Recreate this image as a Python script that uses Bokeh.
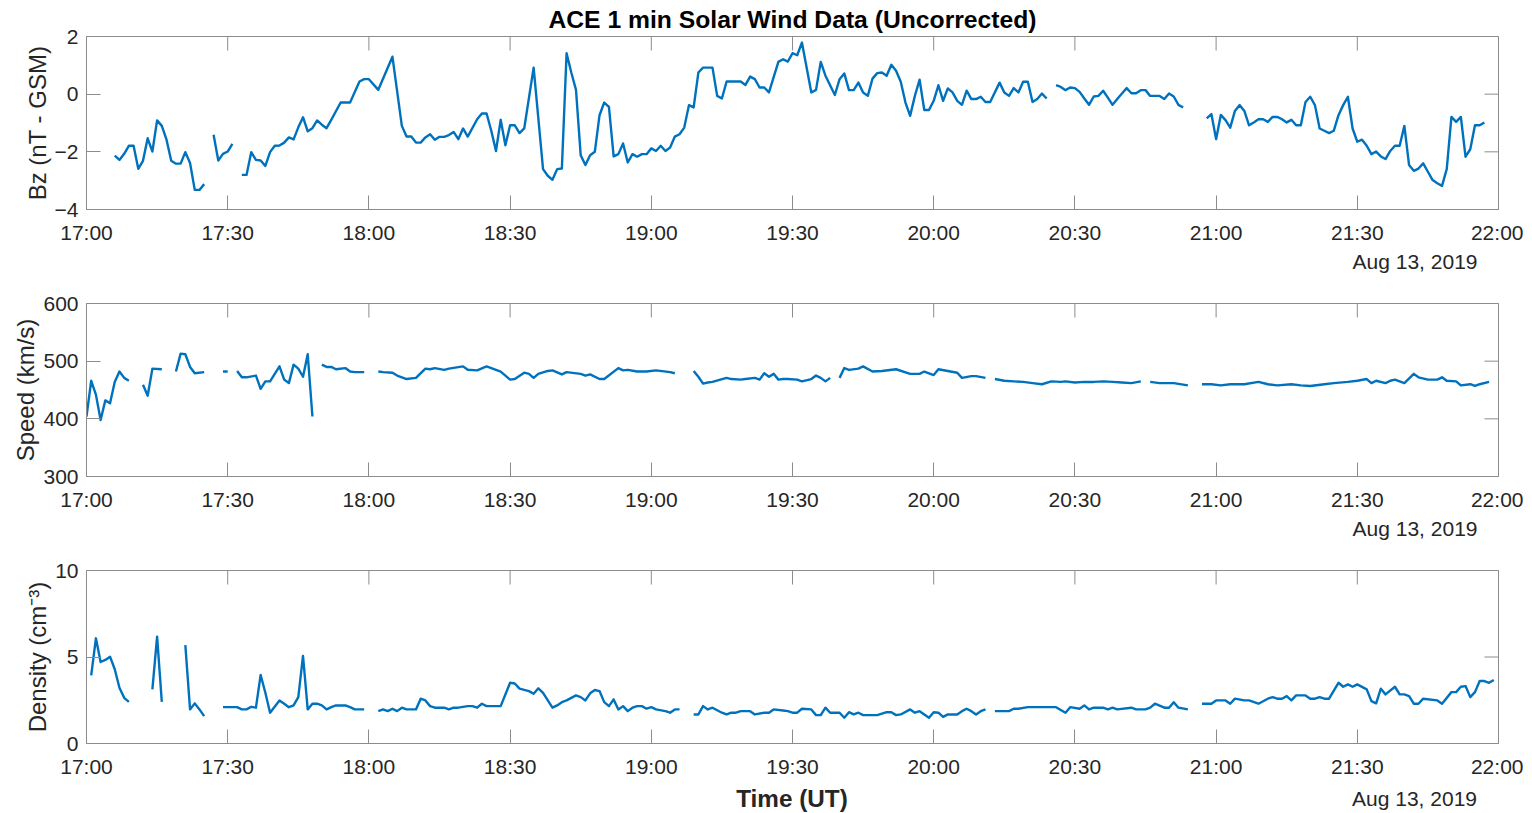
import numpy as np
from bokeh.plotting import figure
from bokeh.layouts import column
from bokeh.models import Range1d, FixedTicker, Title, Div
from bokeh.embed import file_html
from bokeh.resources import INLINE

# ---------------- data (minutes after 17:00 UT, None = data gap) ----------------
x_ticks = [0, 30, 60, 90, 120, 150, 180, 210, 240, 270, 300]
x_tick_labels = ["17:00", "17:30", "18:00", "18:30", "19:00", "19:30",
                 "20:00", "20:30", "21:00", "21:30", "22:00"]
date_text = "Aug 13, 2019"
title_text = "ACE 1 min Solar Wind Data (Uncorrected)"
xlabel_text = "Time (UT)"

bz_min = [6, 7, 8, 9, 10, 11, 12, 13, 14, 15, 16, 17, 18, 19, 20, 21, 22, 23, 24, 25,
          26,
          27, 28, 29, 30, 31,
          32,
          33, 34, 35, 36, 37, 38, 39, 40, 41, 42, 43, 44, 45, 46, 47, 48, 49, 50, 51, 52,
          54, 55, 56, 58, 59, 60, 62, 65, 67, 68, 69, 70, 71, 72, 73, 74, 75, 76, 77, 78,
          79, 80, 81, 83, 84, 85, 86, 87, 88, 89, 90, 91, 92, 93, 95, 97, 98, 99, 100,
          101, 102, 103, 104, 105, 106, 107, 108, 109, 110, 111, 112, 113, 114, 115, 116,
          117, 118, 119, 120, 121, 122, 123, 124, 125, 126, 127, 128, 129, 130, 131, 133,
          134, 135, 136, 139, 140, 141, 142, 143, 144, 145, 147, 148, 149, 150, 151, 152,
          154, 155, 156, 157, 159, 160, 161, 162, 163, 164, 165, 166, 167, 168, 169, 170,
          171, 172, 173, 174, 175, 176, 177, 178, 179, 180, 181, 182, 183, 184, 185, 186,
          187, 188, 189, 190, 191, 192, 194, 195, 196, 197, 198, 199, 200, 201, 202, 203, 204,
          205,
          206, 207, 208, 209, 210, 211, 212, 213, 214, 215, 216, 217, 218, 219, 220, 221,
          222, 223, 224, 225, 226, 228, 229, 230, 231, 232, 233,
          235,
          238, 239, 240, 241, 242, 243, 244, 245, 246, 247, 248, 249, 250, 251, 252, 253,
          254, 255, 256, 257, 258, 259, 260, 261, 262, 263, 264, 265, 266, 267, 268, 269,
          270, 271, 272, 273, 274, 275, 276, 277, 278, 279, 280, 281, 282, 283, 284, 285,
          286, 287, 288, 289, 290, 291, 292, 293, 294, 295, 296, 297]
bz_val = [-2.13, -2.28, -2.07, -1.79, -1.79, -2.59, -2.31, -1.53, -1.99, -0.91, -1.1, -1.58,
          -2.31, -2.41, -2.41, -2.01, -2.39, -3.32, -3.32, -3.12,
          None,
          -1.41, -2.30, -2.07, -1.99, -1.72,
          None,
          -2.8, -2.8, -2.01, -2.28, -2.3, -2.49, -2.01, -1.79, -1.78, -1.68, -1.5, -1.57,
          -1.15, -0.8, -1.29, -1.18, -0.91, -1.06, -1.18, -0.89,
          -0.29, -0.29, -0.29, 0.44, 0.52, 0.52, 0.15, 1.3, -1.1, -1.47, -1.47, -1.68, -1.68,
          -1.5, -1.39, -1.58, -1.48, -1.48, -1.42, -1.31,
          -1.56, -1.19, -1.47, -0.87, -0.67, -0.67, -1.27, -1.97, -0.89, -1.77, -1.08, -1.08,
          -1.35, -1.19, 0.92, -2.6, -2.83, -2.97, -2.6,
          -2.58, 1.42, 0.75, 0.15, -2.12, -2.46, -2.12, -2.0, -0.73, -0.29, -0.44, -2.16,
          -2.08, -1.71, -2.37, -2.08,
          -2.17, -2.08, -2.08, -1.88, -1.97, -1.79, -1.97, -1.85, -1.47, -1.39, -1.16, -0.38,
          -0.46, 0.75, 0.92, 0.92,
          -0.06, -0.15, 0.44, 0.44, 0.32, 0.61, 0.52, 0.23, 0.23, 0.06, 1.12, 1.21, 1.13, 1.42,
          1.35, 1.79,
          0.06, 0.15, 1.12, 0.64, -0.03, 0.52, 0.72, 0.14, 0.14, 0.4, 0.06, -0.06, 0.54, 0.73,
          0.75, 0.64,
          1.02, 0.81, 0.43, -0.29, -0.75, -0.06, 0.5, -0.55, -0.55, -0.23, 0.31, -0.23, 0.2,
          0.06, -0.23, -0.37,
          0.12, -0.17, -0.17, -0.09, -0.27, -0.27, 0.4, 0.06, -0.06, 0.21, 0.06, 0.43, 0.43,
          -0.27, -0.17, 0.02, -0.15,
          None,
          0.31, 0.25, 0.14, 0.23, 0.21, 0.08, -0.15, -0.37, -0.08, -0.06, 0.12, -0.12, -0.37,
          -0.17, 0.02, 0.21,
          0.03, 0.03, 0.14, 0.14, -0.06, -0.06, -0.17, 0.02, -0.08, -0.37, -0.46,
          None,
          -0.84, -0.69, -1.56, -0.72, -0.9, -1.16, -0.58, -0.38, -0.58, -1.08, -0.98, -0.87,
          -0.87, -0.96, -0.79, -0.79,
          -0.87, -0.98, -0.89, -1.08, -1.08, -0.27, -0.09, -0.38, -1.19, -1.27, -1.35, -1.27,
          -0.73, -0.38, -0.09, -1.19,
          -1.65, -1.58, -1.79, -2.08, -1.99, -2.16, -2.25, -1.97, -1.79, -1.79, -1.1, -2.46,
          -2.66, -2.58, -2.4, -2.69,
          -2.98, -3.09, -3.18, -2.6, -0.79, -0.96, -0.79, -2.17, -1.91, -1.08, -1.08, -0.98]

speed_min = [0, 1, 2, 3, 4, 5, 6, 7, 8, 9,
             10,
             12, 13, 14, 16,
             17,
             19, 20, 21, 22, 23, 25,
             27,
             29, 30,
             31,
             32, 33, 34, 36, 37, 38, 39, 41, 42, 43, 44, 45, 46, 47, 48,
             49,
             50, 51, 52, 53, 55, 56, 57, 59,
             60,
             62, 63, 65, 66, 68, 70, 72, 73, 74, 76, 77, 80, 81, 83, 85, 88, 90, 91, 93, 94,
             95, 96, 98, 99, 101, 102, 105, 106, 107, 109, 110, 113, 114, 115, 117, 119, 121,
             124, 125,
             127,
             129, 130, 131, 132, 133, 136, 137, 139, 140, 142, 143, 144, 145, 146, 147, 148,
             149, 151, 152, 154, 155, 156, 157, 158,
             159,
             160, 161, 162, 164, 165, 167, 169, 172, 175, 177, 178, 180, 181, 183, 185, 186,
             188, 189, 191,
             192,
             193, 195, 197, 199, 201, 203, 205, 207, 208, 210, 212, 214, 216, 218, 220, 222, 224,
             225,
             226, 228, 231, 234,
             235,
             237, 239, 241, 243, 246, 249, 251, 253, 256, 258, 260, 263, 265, 268, 270, 272,
             273, 274, 276, 277, 278, 280, 282, 283, 285, 287, 288, 289, 291, 292, 294, 295,
             296, 298]
speed_val = [404, 466, 442, 398, 432, 427, 464, 482, 471, 466,
             None,
             459, 440, 487, 486,
             None,
             482, 513, 512, 490, 479, 481,
             None,
             482, 482,
             None,
             483, 472, 472, 475, 452, 465, 465, 491, 468, 462, 494, 487, 473, 512, 404,
             None,
             494, 490, 490, 486, 488, 482, 481, 481,
             None,
             482, 481, 480, 475, 469, 471, 487, 486, 488, 485, 487, 491, 485, 484, 491, 482,
             468, 469, 480, 478,
             471, 478, 483, 484, 477, 481, 478, 475, 477, 469, 469, 488, 484, 485, 482, 482,
             484, 481, 479,
             None,
             483, 473, 461, 463, 464, 471, 469, 468, 469, 471, 468, 479, 473, 478, 468, 469,
             469, 468, 465, 469, 475, 471, 465, 471,
             None,
             471, 488, 485, 487, 491, 482, 483, 486, 478, 478, 482, 476, 486, 483, 480, 471,
             474, 474, 471,
             None,
             469, 466, 465, 464, 462, 460, 465, 464, 465, 463, 464, 464, 465, 464, 463, 462, 465,
             None,
             464, 462, 462, 458,
             None,
             460, 460, 458, 460, 460, 464, 460, 458, 460, 458, 457, 460, 462, 464, 466, 469,
             462, 466, 462, 466, 468, 462, 478, 472, 468, 468, 472, 466, 465, 458, 460, 457,
             460, 464]

dens_min = [1, 2, 3, 4, 5, 6, 7, 8, 9,
            11,
            14, 15, 16,
            18,
            21, 22, 23, 24, 25,
            27,
            29, 32, 33, 34, 35, 36, 37, 38, 39, 41, 42, 43, 44, 45, 46, 47, 48, 49, 50, 51,
            52, 53, 54, 55, 56, 57, 59,
            60,
            62, 63, 64, 65, 66, 67, 68, 70, 71, 72, 73, 74, 76, 77, 78, 79, 81, 82, 83, 84,
            85, 88, 90, 91, 92, 94, 95, 96, 97, 99, 100, 101, 102, 104, 105, 106, 107, 108,
            109, 110, 111, 112, 113, 114, 115, 116, 117, 118, 119, 120, 121, 123, 124, 125, 126,
            127,
            129, 130, 131, 132, 133, 135, 136, 137, 138, 139, 141, 142, 144, 145, 146, 148,
            149, 150, 151, 152, 154, 155, 156, 157, 158, 160, 161, 162, 163, 164, 165, 168,
            170, 171, 172, 173, 175, 176, 177, 178, 179, 180, 181, 182, 183, 185, 186, 187,
            188, 189, 190, 191,
            192,
            193, 196, 197, 198, 200, 206, 208, 209, 211, 212, 213, 214, 216, 217, 218, 219,
            222, 223, 225, 226, 227, 229, 230, 231, 232, 234,
            235,
            237, 239, 240, 242, 243, 244, 246, 247, 249, 251, 252, 253, 254, 255, 256, 257,
            259, 260, 261, 262, 263, 264, 266, 267, 268, 269, 270, 272, 273, 274, 275, 276,
            278, 279, 280, 281, 282, 283, 284, 287, 288, 290, 291, 292, 293, 294, 295, 296,
            297, 298, 299]
dens_val = [3.94, 6.08, 4.71, 4.83, 5.02, 4.29, 3.22, 2.64, 2.41,
            None,
            3.13, 6.18, 2.41,
            None,
            5.69, 1.97, 2.32, 1.97, 1.58,
            None,
            2.1, 2.1, 1.97, 1.97, 2.12, 2.07, 3.96, 2.93, 1.78, 2.49, 2.3, 2.1, 2.2, 2.68, 5.06,
            1.97, 2.3, 2.3, 2.2, 1.97,
            2.1, 2.2, 2.2, 2.2, 2.1, 1.97, 1.97,
            None,
            1.87, 1.97, 1.87, 2.01, 1.87, 2.07, 1.97, 1.97, 2.59, 2.49, 2.16, 2.07, 2.07, 1.97,
            2.07, 2.07, 2.16, 2.16, 2.07, 2.3,
            2.16, 2.16, 3.51, 3.47, 3.17, 3.03, 2.88, 3.19, 2.93, 2.07, 2.2, 2.39, 2.49, 2.78,
            2.68, 2.49, 2.9, 3.09,
            3.03, 2.39, 2.16, 2.55, 1.97, 2.16, 1.87, 2.07, 2.16, 2.16, 2.01, 2.1, 1.97, 1.87,
            1.78, 1.97, 1.97,
            None,
            1.68, 1.68, 2.16, 1.97, 2.07, 1.78, 1.68, 1.78, 1.78, 1.87, 1.87, 1.68, 1.78, 1.78,
            1.97, 1.91,
            1.87, 1.78, 1.78, 2.01, 1.97, 1.64, 1.64, 2.07, 1.78, 1.78, 1.49, 1.81, 1.68, 1.78,
            1.64, 1.64,
            1.81, 1.81, 1.64, 1.68, 1.97, 1.78, 1.87, 1.68, 1.49, 1.81, 1.78, 1.54, 1.68, 1.68,
            1.87, 2.01,
            1.87, 1.68, 1.87, 1.97,
            None,
            1.87, 1.87, 2.01, 2.01, 2.1, 2.1, 1.78, 2.1, 2.01, 2.2, 1.97, 2.07, 2.07, 1.97,
            2.07, 1.97,
            2.07, 1.97, 1.97, 2.07, 2.3, 2.07, 2.07, 2.39, 2.07, 1.97,
            None,
            2.3, 2.3, 2.49, 2.49, 2.3, 2.59, 2.49, 2.49, 2.3, 2.59, 2.68, 2.59, 2.59, 2.74,
            2.49, 2.78,
            2.78, 2.59, 2.59, 2.68, 2.59, 2.59, 3.51, 3.28, 3.42, 3.28, 3.42, 3.13, 2.45, 2.32,
            3.17, 2.84,
            3.28, 2.84, 2.84, 2.74, 2.3, 2.3, 2.59, 2.49, 2.3, 2.97, 2.97, 3.28, 3.32, 2.68,
            2.97, 3.61,
            3.61, 3.51, 3.67]

# ---------------- styling ----------------
FONT = "Liberation Sans"
TXT = "#262626"
FRAME = "#8c8c8c"
BLUE = "#0072BD"
TICK_PX = "21px"
LABEL_PX = "24px"
FRAME_W = 1412
FRAME_H = 173
LEFT_B = 86
RIGHT_B = 25
DATE_INSET = 21


def to_arr(v):
    return np.array([np.nan if a is None else a for a in v], dtype=float)


def style_axis(ax, ticks, overrides=None):
    ax.ticker = FixedTicker(ticks=ticks)
    ax.minor_tick_line_color = None
    ax.major_tick_in = 14
    ax.major_tick_out = 0
    ax.major_tick_line_color = FRAME
    ax.axis_line_color = FRAME
    ax.axis_line_width = 1
    if overrides is not None:
        ax.major_label_overrides = overrides
    ax.major_label_text_font = FONT
    ax.major_label_text_font_size = TICK_PX
    ax.major_label_text_color = TXT
    ax.major_label_standoff = 11


def make_panel(xv, yv, yr, yticks, ylabel, top, bottom, date_title):
    p = figure(frame_width=FRAME_W, frame_height=FRAME_H,
               x_range=Range1d(0, 300), y_range=Range1d(*yr),
               output_backend="svg", toolbar_location=None,
               min_border_left=LEFT_B, min_border_right=RIGHT_B,
               min_border_top=top, min_border_bottom=bottom,
               background_fill_color="white", border_fill_color="white")
    p.xgrid.visible = False
    p.ygrid.visible = False
    p.outline_line_color = FRAME
    p.outline_line_width = 1

    style_axis(p.xaxis[0], x_ticks, {t: lab for t, lab in zip(x_ticks, x_tick_labels)})
    style_axis(p.yaxis[0], yticks)
    p.yaxis[0].major_label_standoff = 8
    p.yaxis[0].axis_label = ylabel
    p.yaxis[0].axis_label_text_font = FONT
    p.yaxis[0].axis_label_text_font_size = LABEL_PX
    p.yaxis[0].axis_label_text_font_style = "normal"
    p.yaxis[0].axis_label_text_color = TXT
    p.yaxis[0].axis_label_standoff = 1

    # inward ticks on the top and right edges of the box (half of each dash is clipped away)
    p.scatter(x_ticks, [yr[1]] * len(x_ticks), marker="dash", angle=np.pi / 2, size=28,
              line_color=FRAME, line_width=1)
    p.scatter([300] * len(yticks), yticks, marker="dash", size=28,
              line_color=FRAME, line_width=1)

    p.line(xv, to_arr(yv), line_color=BLUE, line_width=2.4, line_join="round")

    if date_title:
        t = Title(text=date_text, align="right", offset=DATE_INSET, standoff=3,
                  text_font=FONT, text_font_size=TICK_PX, text_font_style="normal",
                  text_color=TXT)
        p.add_layout(t, "below")
    return p


p1 = make_panel(bz_min, bz_val, (-4, 2), [-4, -2, 0, 2], "Bz (nT - GSM)", 36, 64, True)
p1.title.text = title_text
p1.title.align = "center"
p1.title.text_font = FONT
p1.title.text_font_size = "24.7px"
p1.title.text_font_style = "bold"
p1.title.text_color = "#000000"
p1.title.standoff = 7

p2 = make_panel(speed_min, speed_val, (300, 600), [300, 400, 500, 600], "Speed (km/s)", 29, 64, True)
p3 = make_panel(dens_min, dens_val, (0, 10), [0, 5, 10], "Density (cm⁻³)", 29, 42, False)

# bottom row: bold x-axis label centred under the frame, date right-aligned
total_w = LEFT_B + FRAME_W + RIGHT_B
x_center = LEFT_B + FRAME_W // 2
date_right = LEFT_B + FRAME_W - DATE_INSET
bottom_html = (
    f'<div style="position:relative;width:{total_w}px;height:28px;'
    f'font-family:\'{FONT}\';">'
    f'<span style="position:absolute;left:{x_center}px;top:0;line-height:28px;'
    f'transform:translateX(-50%);font-size:24.3px;font-weight:bold;color:{TXT};'
    f'white-space:nowrap;">{xlabel_text}</span>'
    f'<span style="position:absolute;right:{total_w - date_right}px;top:0;'
    f'line-height:28px;font-size:21px;color:{TXT};white-space:nowrap;">{date_text}</span>'
    f'</div>'
)
bottom_row = Div(text=bottom_html, width=total_w, height=28, margin=(0, 0, 0, 0))

layout = column(p1, p2, p3, bottom_row, spacing=0)
open("out.html", "w").write(file_html(layout, INLINE))
